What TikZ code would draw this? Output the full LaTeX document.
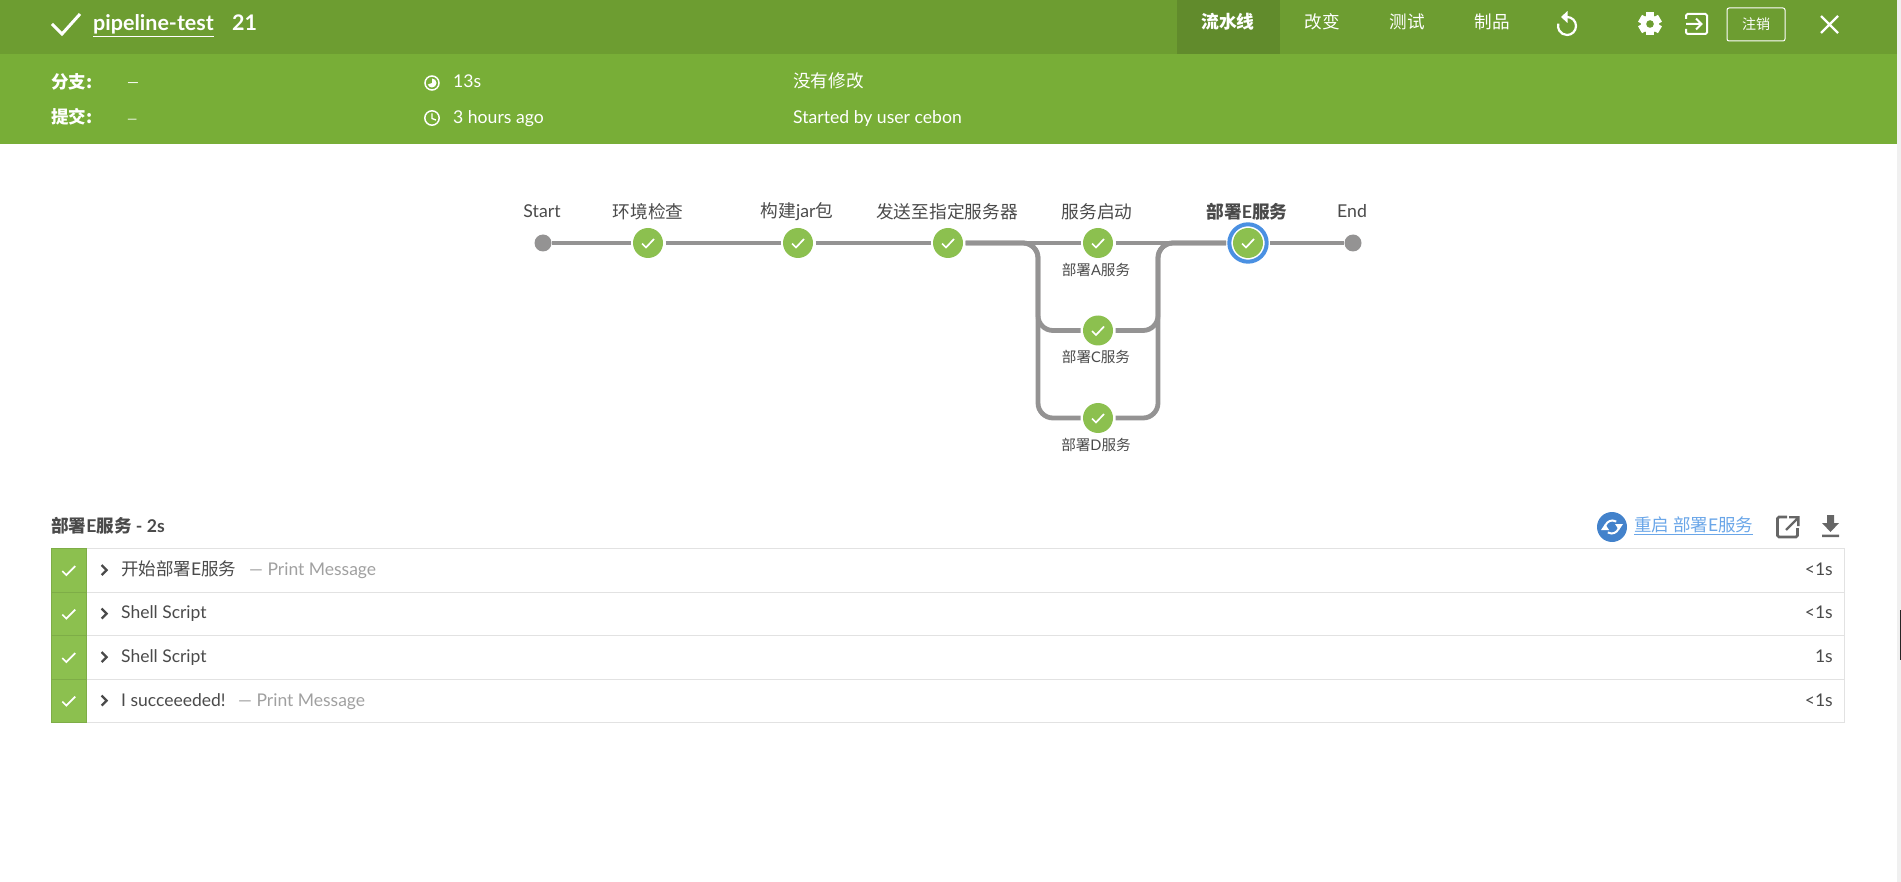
\documentclass[tikz,border=0pt]{standalone}
\usepackage{fontspec}
\setmainfont{Lato}
\newfontfamily\cjk{Noto Sans CJK SC}
\definecolor{headDark}{HTML}{6D9D31}
\definecolor{headTab}{HTML}{618B2C}
\definecolor{headMain}{HTML}{78AE37}
\definecolor{okGreen}{HTML}{8CC04F}
\definecolor{lineGray}{HTML}{949393}
\definecolor{ringBlue}{HTML}{4A90E2}
\definecolor{textGray}{HTML}{4A4A4A}
\definecolor{softGray}{HTML}{A0A0A0}
\definecolor{rowGray}{HTML}{E2E2E2}
\definecolor{iconGray}{HTML}{666666}
\definecolor{linkBlue}{HTML}{6AA6E8}
\tikzset{
  stepdone/.style={circle,fill=okGreen,minimum size=30,inner sep=0,outer sep=2.5},
  stepend/.style={circle,fill=lineGray,minimum size=17,inner sep=0},
  conn/.style={draw=lineGray,line width=4.8},
  tickline/.style={draw=white,line width=1.7},
  toplbl/.style={inner sep=0,text=textGray,font=\fontsize{17.7}{20}\selectfont},
  sublbl/.style={inner sep=0,text=textGray,font=\fontsize{14.6}{17}\selectfont},
  headtxt/.style={inner sep=0,text=white,font=\fontsize{17.6}{20}\selectfont},
  headbase/.style={headtxt,anchor=base west},
  rowtxt/.style={inner sep=0,anchor=base west,text=textGray,font=\fontsize{17.5}{20}\selectfont},
  rowsoft/.style={inner sep=0,anchor=base west,text=softGray,font=\fontsize{17.5}{20}\selectfont},
  rowtime/.style={inner sep=0,anchor=base east,text=textGray,font=\fontsize{17.5}{20}\selectfont},
}
\begin{document}
\begin{tikzpicture}[x=1pt,y=-1pt]
  \useasboundingbox (0,0) rectangle (1901,882);
  % header bars
  \fill[headDark] (0,0) rectangle (1897,54);
  \fill[headMain] (0,54) rectangle (1897,144);
  \fill[headTab] (1177,0) rectangle (1280,54);
  \fill[black!6] (1897,0) rectangle (1901,882);
  \fill[black!85] (1900,610) rectangle (1901,660);
  % title row
  \draw[white,line width=3] (52,24) -- (62,34) -- (80,14);
  \node[inner sep=0,anchor=base west,text=white,font=\fontsize{21.5}{24}\bfseries] (title) at (93,31) {\underline{pipeline-test}};
  \node[inner sep=0,anchor=base west,text=white,font=\fontsize{21.5}{24}\bfseries] (runno) at (232,31) {21};
  \node[headtxt,font=\fontsize{17.8}{20}\bfseries] (tabflow) at (1228,22) {\cjk 流水线};
  \node[headtxt] (tabchg) at (1322,22) {\cjk 改变};
  \node[headtxt] (tabtest) at (1407,22) {\cjk 测试};
  \node[headtxt] (tabprod) at (1492,22) {\cjk 制品};
  % reset
  \draw[white,line width=2.2] (1567,17) arc (-90:195:9);
  \fill[white] (1567.5,11) -- (1567.5,23) -- (1561,17) -- cycle;
  % gear
  \foreach \a in {0,60,120} {
    \fill[white,rotate around={\a:(1650,24)}] (1646,12.5) rectangle (1654,35.5);
  }
  \fill[white] (1650,24) circle (9);
  \fill[headDark] (1650,24) circle (3.8);
  % exit
  \draw[white,line width=2,rounded corners=1.5] (1686,19) -- (1686,14) -- (1707,14) -- (1707,34) -- (1686,34) -- (1686,29);
  \draw[white,line width=2] (1686,24) -- (1701,24) (1696,18.5) -- (1701.5,24) -- (1696,29.5);
  \node[draw=white,rounded corners=2,line width=1,minimum width=58,minimum height=33,inner sep=0,text=white,font=\fontsize{14}{17}\selectfont] (logout) at (1756,24.5) {\cjk 注销};
  \draw[white,line width=2.2] (1821,16) -- (1838,33) (1838,16) -- (1821,33);
  % summary
  \node[headbase,font=\fontsize{17.5}{20}\bfseries] (lblbranch) at (51,88.5) {\cjk 分支:};
  \node[headbase,font=\fontsize{17.5}{20}\bfseries] (lblcommit) at (51,124) {\cjk 提交:};
  \node[headbase,font=\fontsize{15}{20}\selectfont] (valbranch) at (127,88) {—};
  \node[headbase,font=\fontsize{13}{20}\selectfont] (valcommit) at (127,124) {—};
  \draw[white,line width=1.5] (432,83) circle (7);
  \fill[white] (432,83) -- (432,78.5) arc (-90:160:4.5) -- cycle;
  \draw[white,line width=1.5] (432,118) circle (7.2);
  \draw[white,line width=1.3] (432,113.5) -- (432,118.5) -- (436,120);
  \node[headbase] (valtime) at (453,88) {13s};
  \node[headbase] (valago) at (453,124) {3 hours ago};
  \node[headbase] (valchg) at (793,88) {\cjk 没有修改};
  \node[headbase] (valuser) at (793,124) {Started by user cebon};
  % pipeline nodes
  \node[stepend] (start) at (543,243) {};
  \node[stepdone] (env) at (648,243) {};
  \node[stepdone] (build) at (798,243) {};
  \node[stepdone] (send) at (948,243) {};
  \node[stepdone] (deployA) at (1098,243) {};
  \node[stepdone] (deployC) at (1098,330.5) {};
  \node[stepdone] (deployD) at (1098,418) {};
  \node[stepdone,outer sep=7] (deployE) at (1248,243) {};
  \node[stepend] (finish) at (1353,243) {};
  \coordinate (forkL) at (1038,243);
  \coordinate (joinR) at (1158,243);
  \draw[ringBlue,line width=4] (deployE) circle (18.7);
  % connectors
  \draw[conn] (start) -- (env);
  \draw[conn] (env) -- (build);
  \draw[conn] (build) -- (send);
  \draw[conn] (send) -- (deployA);
  \draw[conn] (deployA) -- (deployE);
  \draw[conn] (deployE) -- (finish);
  \draw[conn,rounded corners=15] (send) -- (forkL) |- (deployC);
  \draw[conn,rounded corners=15] (send) -- (forkL) |- (deployD);
  \draw[conn,rounded corners=15] (deployC) -| (joinR) -- (deployE);
  \draw[conn,rounded corners=15] (deployD) -| (joinR) -- (deployE);
  % check marks
  \foreach \n in {env,build,send,deployA,deployC,deployD,deployE} {
    \draw[tickline] ([shift={(-6,0.5)}]\n.center) -- ++(4,4) -- ++(8,-8.5);
  }
  % pipeline labels
  \node[toplbl,anchor=base] (lblstart) at (542,218) {Start};
  \node[toplbl] (lblenv) at (648,212) {\cjk 环境检查};
  \node[toplbl] (lblbuild) at (797,212) {{\cjk 构建}jar{\cjk 包}};
  \node[toplbl] (lblsend) at (947,212) {\cjk 发送至指定服务器};
  \node[toplbl] (lblstage) at (1097,212) {\cjk 服务启动};
  \node[toplbl,font=\fontsize{17.7}{20}\bfseries] (lblE) at (1247,212) {{\cjk 部署}E{\cjk 服务}};
  \node[toplbl,anchor=base] (lblend) at (1352,218) {End};
  \node[sublbl] (lblA) at (1096,270) {{\cjk 部署}A{\cjk 服务}};
  \node[sublbl] (lblC) at (1096,357) {{\cjk 部署}C{\cjk 服务}};
  \node[sublbl] (lblD) at (1096,445) {{\cjk 部署}D{\cjk 服务}};
  % step list
  \node[rowtxt,font=\fontsize{17.6}{20}\bfseries] (listhead) at (51,532) {{\cjk 部署}E{\cjk 服务} - 2s};
  \fill[ringBlue!90!black] (1612,527) circle (15);
  \draw[white,line width=2] (1605,528) arc (180:300:7.5);
  \draw[white,line width=2] (1619,526) arc (0:120:7.5);
  \fill[white] (1601,530) -- (1609,530) -- (1605,524) -- cycle;
  \fill[white] (1615,524) -- (1623,524) -- (1619,530) -- cycle;
  \node[inner sep=0,anchor=base west,text=linkBlue,font=\fontsize{17.5}{20}\selectfont] (restart) at (1634,531) {\underline{{\cjk 重启 部署}E{\cjk 服务}}};
  \draw[iconGray,line width=2.6,rounded corners=1.5] (1787,517) -- (1777.5,517) -- (1777.5,537) -- (1797.5,537) -- (1797.5,528);
  \draw[iconGray,line width=2.4] (1786,530) -- (1797,519) (1789,517.2) -- (1798.3,517.2) -- (1798.3,526);
  \fill[iconGray] (1827,515) rectangle (1834,523) (1822,523) -- (1839,523) -- (1830.5,532) -- cycle (1822,534.5) rectangle (1839,537);
  % rows
  \foreach \r/\ytop in {A/548,B/591.5,C/635,D/678.5} {
    \node[draw=rowGray,line width=1.1,minimum width=1793,minimum height=43.5,inner sep=0,anchor=north west] (row\r) at (51,\ytop) {};
    \node[fill=okGreen,draw=black!10!okGreen,line width=0.6,minimum width=35,minimum height=43.5,inner sep=0,anchor=north west] (tick\r) at (51,\ytop) {};
    \draw[tickline] ([shift={(-6.5,1)}]tick\r.center) -- ++(4,4) -- ++(9,-9);
    \draw[textGray,line width=2.3] ([shift={(15,-5)}]tick\r.east) -- ++(5,5) -- ++(-5,5);
  }
  \node[rowtxt] (nameA) at (121,575) {{\cjk 开始部署}E{\cjk 服务}};
  \node[rowsoft] (typeA) at (249,575) {— Print Message};
  \node[rowtxt] (nameB) at (121,618) {Shell Script};
  \node[rowtxt] (nameC) at (121,662.5) {Shell Script};
  \node[rowtxt] (nameD) at (121,706) {I succeeeded!};
  \node[rowsoft] (typeD) at (238,706) {— Print Message};
  \node[rowtime] (timeA) at (1833,575) {<1s};
  \node[rowtime] (timeB) at (1833,618.5) {<1s};
  \node[rowtime] (timeC) at (1833,662.5) {1s};
  \node[rowtime] (timeD) at (1833,706) {<1s};
\end{tikzpicture}
\end{document}
